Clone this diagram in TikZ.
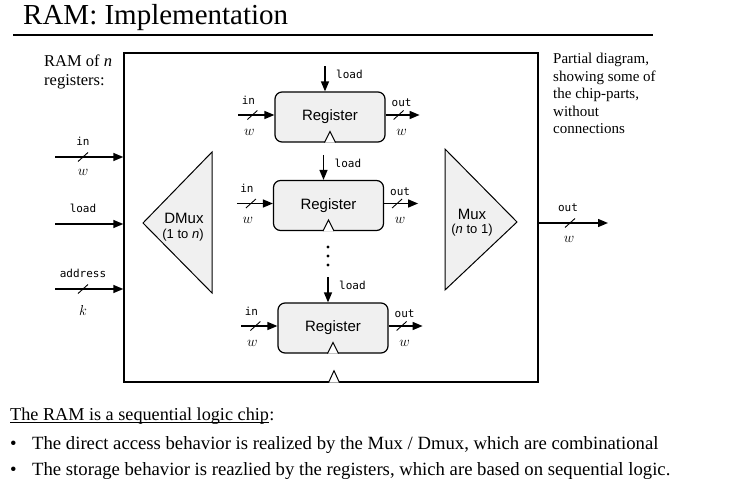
\documentclass[tikz,border=0pt]{standalone}
\usepackage{fontspec}
\setmainfont{Liberation Serif}
\setsansfont{Liberation Sans}
\setmonofont{DejaVu Sans Mono}
\usetikzlibrary{arrows.meta}
\usetikzlibrary{positioning}
\usetikzlibrary{calc}

\tikzset{
  arr/.style={-{Triangle[length=10pt,width=8pt]}, line width=1.4pt},
  regbox/.style={draw, line width=1.2pt, rounded corners=7pt, fill=gray!12,
    minimum width=110pt, minimum height=50pt, inner sep=0pt,
    font=\sffamily\fontsize{15}{15}\selectfont},
  pin/.style={font=\ttfamily\fontsize{11}{11}\selectfont, inner sep=0pt},
  wid/.style={font=\fontsize{14}{14}\selectfont, inner sep=0pt},
  slash/.style={line width=0.9pt},
  clk/.style={draw, line width=1pt, fill=white},
  tri/.style={draw, line width=1pt, fill=gray!12},
  lbl/.style={font=\sffamily\fontsize{15}{15}\selectfont, inner sep=0pt},
  lbln/.style={font=\sffamily\fontsize{13}{13}\selectfont, inner sep=0pt},
}
\newcommand\busmark[1]{\draw[slash] ($(#1)+(-5,4.5)$) -- ($(#1)+(5,-4.5)$);}

\begin{document}
\begin{tikzpicture}[x=1pt, y=-1pt]
\useasboundingbox (0,0) rectangle (732,487);

 %title
  \node[anchor=base west, inner sep=0pt, font=\fontsize{29}{29}\selectfont] (title) at (23,25) {RAM: Implementation};
  \coordinate (tl) at (13,35);
  \coordinate (tr) at (653,35);
  \draw[line width=1.5pt] (tl) -- (tr);

 %chip box
  \node[draw, line width=1.4pt, minimum width=414pt, minimum height=329pt, inner sep=0pt] (ram) at (331,217.5) {};
  \draw[clk] ([xshift=-2.5pt]ram.south) -- ([xshift=3pt,yshift=12pt]ram.south) -- ([xshift=8.5pt]ram.south);

  \node[anchor=north west, align=left, inner sep=0pt, font=\fontsize{16.5}{19}\selectfont] (ramof) at (44,55) {RAM of \textit{n}\\registers:};
  \node[anchor=north west, align=left, inner sep=0pt, font=\fontsize{15}{17.5}\selectfont] (note) at (553,53) {Partial diagram,\\showing some of\\the chip-parts,\\without\\connections};

 %registers
  \foreach \i/\x/\y in {1/330/117, 2/328.5/205.5, 3/333/328} {
    \node[regbox] (r\i) at (\x,\y) {Register};
    \draw[clk] ([xshift=-5.5pt]r\i.south) -- ([yshift=11pt]r\i.south) -- ([xshift=5.5pt]r\i.south);
    % load
    \coordinate (ld\i) at ([xshift=-5pt,yshift=25pt]r\i.north);
    \draw[arr] (ld\i) -- (ld\i |- r\i.north);
    \node[pin, anchor=west] (ldt\i) at ([xshift=6pt,yshift=17pt]r\i.north) {load};
    % in
    \coordinate (in\i) at ([xshift=-36pt,yshift=2pt]r\i.west);
    \draw[arr] (in\i) -- (in\i -| r\i.west);
    \coordinate (inm\i) at ([xshift=-22pt,yshift=2pt]r\i.west);
    \busmark{inm\i}
    \node[pin] (int\i) at ([xshift=-26pt,yshift=17pt]r\i.west) {in};
    \node[wid] (inw\i) at ([xshift=-25pt,yshift=-15pt]r\i.west) {$w$};
    % out
    \coordinate (out\i) at ([xshift=34pt,yshift=2pt]r\i.east);
    \draw[arr] (out\i -| r\i.east) -- (out\i);
    \coordinate (outm\i) at ([xshift=13pt,yshift=2pt]r\i.east);
    \busmark{outm\i}
    \node[pin] (outt\i) at ([xshift=16pt,yshift=14pt]r\i.east) {out};
    \node[wid] (outw\i) at ([xshift=16pt,yshift=-15pt]r\i.east) {$w$};
  }

 %dots
  \foreach \dy in {247,256,265} {
    \fill (328,\dy) circle (1.6);
  }

 %chip inputs
  \foreach \n/\y/\txt in {in/157/in, load/224/load, addr/289/address} {
    \coordinate (\n s) at (55,\y);
    \draw[arr] (\n s) -- (\n s -| ram.west);
    \node[pin] (\n t) at (83,\y-16) {\txt};
  }
  \coordinate (inms) at (83,157);
  \busmark{inms}
  \node[wid] (inws) at (83,172) {$w$};
  \coordinate (addrms) at (83,289);
  \busmark{addrms}
  \node[wid] (addrks) at (83,310) {$k$};

 %dmux
  \coordinate (dm1) at (143,223);
  \coordinate (dm2) at (212,152);
  \coordinate (dm3) at (212,293);
  \draw[tri] (dm1) -- (dm2) -- (dm3) -- cycle;
  \node[lbl] (dmux) at (184,218) {DMux};
  \node[lbln] (dmuxn) at (183,235) {(1 to \textit{n})};

 %mux
  \coordinate (mx1) at (445,149);
  \coordinate (mx2) at (445,290);
  \coordinate (mx3) at (517,222);
  \draw[tri] (mx1) -- (mx2) -- (mx3) -- cycle;
  \node[lbl] (mux) at (472,214) {Mux};
  \node[lbln] (muxn) at (472,230) {(\textit{n} to 1)};

 %chip output
  \coordinate (oute) at (608,223);
  \draw[arr] (oute -| ram.east) -- (oute);
  \coordinate (outms) at (570,223);
  \busmark{outms}
  \node[pin] (outts) at (568,208) {out};
  \node[wid] (outws) at (569,239) {$w$};

 %summary
  \node[anchor=base west, inner sep=0pt, font=\fontsize{18.2}{18.2}\selectfont] (sum) at (10,420) {The RAM is a sequential logic chip};
  \node[anchor=base west, inner sep=0pt, font=\fontsize{18.2}{18.2}\selectfont] (sumc) at (sum.base east) {:};
  \draw[line width=0.8pt] ([yshift=-2pt]sum.base west) -- ([yshift=-2pt]sum.base east);
  \node[anchor=base west, inner sep=0pt, font=\fontsize{18.7}{18.7}\selectfont] (b1) at (10,449) {•};
  \node[anchor=base west, inner sep=0pt, font=\fontsize{18.7}{18.7}\selectfont] (bt1) at (32,449) {The direct access behavior is realized by the Mux / Dmux, which are combinational};
  \node[anchor=base west, inner sep=0pt, font=\fontsize{18.7}{18.7}\selectfont] (b2) at (10,475) {•};
  \node[anchor=base west, inner sep=0pt, font=\fontsize{18.7}{18.7}\selectfont] (bt2) at (32,475) {The storage behavior is reazlied by the registers, which are based on sequential logic.};
\end{tikzpicture}
\end{document}
